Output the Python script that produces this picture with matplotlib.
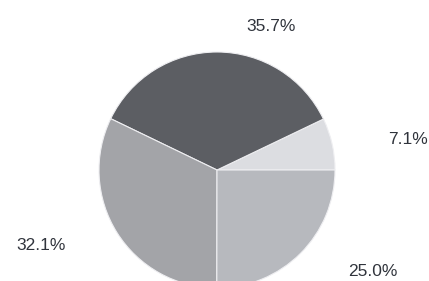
import matplotlib.pyplot as plt

# slice values, counterclockwise starting at 3 o'clock
labels = ['7.1%', '35.7%', '32.1%', '25.0%']
values = [7.1, 35.7, 32.1, 25.0]
colors = ['#dcdde1', '#5c5e63', '#a3a4a8', '#b7b9be']

# label positions in axes data units (radius = 1)
label_pos = [(1.62, 0.26), (0.46, 1.22), (-1.49, -0.64), (1.32, -0.86)]

fig = plt.figure(figsize=(4.29, 2.81), dpi=100)
ax = fig.add_axes([0, 0, 1, 1])

ax.pie(values, colors=colors, startangle=0, counterclock=True,
       radius=1.0, wedgeprops=dict(edgecolor='#eeeef1', linewidth=0.8))

for lab, (x, y) in zip(labels, label_pos):
    ax.text(x, y, lab, ha='center', va='center', fontsize=12.5,
            family='Liberation Sans', color='#30343c')

# pie centre at (217, 170) px, radius 118 px
r = 118.0
ax.set_xlim(-217 / r, (429 - 217) / r)
ax.set_ylim(-(281 - 170) / r, 170 / r)
ax.set_aspect('auto')
ax.axis('off')

fig.savefig('out.png', dpi=100)
